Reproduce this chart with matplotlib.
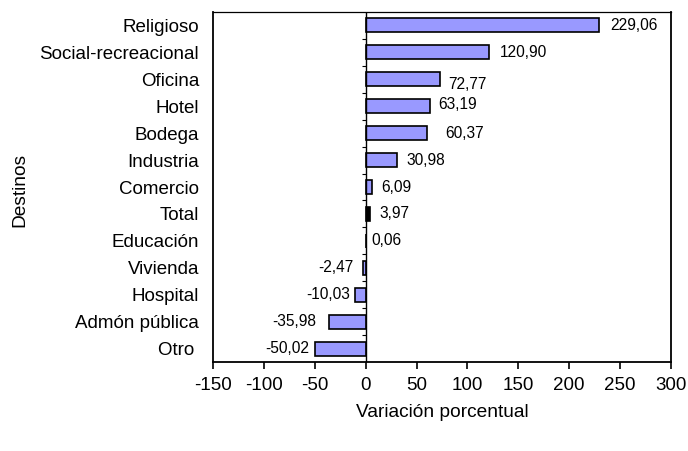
import numpy as np
from matplotlib import pyplot as plt

destinos = ['Religioso', 'Social-recreacional', 'Oficina', 'Hotel', 'Bodega', 'Industria',
            'Comercio', 'Total', 'Educación', 'Vivienda', 'Hospital', 'Admón pública', 'Otro ']
variacion = [229.06, 120.90, 72.77, 63.19, 60.37, 30.98, 6.09, 3.97, 0.06, -2.47, -10.03, -35.98, -50.02]
etiquetas = ['229,06', '120,90', '72,77', '63,19', '60,37', '30,98', '6,09', '3,97', '0,06',
             '-2,47', '-10,03', '-35,98', '-50,02']

# small hand nudges for the value labels (points), like in the original sheet
dx = [8, 8, 6, 6, 13, 7, 7, 7, 4, -7, -4, -9, -4]
dy = [0, 0, -4, 1, 0, 0, 0, 0, 0, 0, 0, 0, 0]

plt.rcParams['font.family'] = ['Liberation Sans', 'DejaVu Sans']
plt.rcParams['axes.unicode_minus'] = False

fig = plt.figure(figsize=(6.88, 4.51), dpi=100)
ax = fig.add_axes([213 / 688, 1 - 362 / 451, 458 / 688, 350 / 451])

y = np.arange(len(destinos))
colores = ['#000000' if d == 'Total' else '#9999FF' for d in destinos]
ax.barh(y, variacion, height=0.52, color=colores, edgecolor='black', linewidth=1.2, zorder=3)

for i, v in enumerate(variacion):
    ha = 'left' if v >= 0 else 'right'
    ax.annotate(etiquetas[i], (v, y[i]), xytext=(dx[i], dy[i]), textcoords='offset points',
                ha=ha, va='center', fontsize=11.2)

# zero line with category separators
ax.axvline(0, color='black', linewidth=1.0, zorder=4)
ax.hlines(y[1:] - 0.5, -4, 0, color='black', linewidth=0.8, zorder=4)

ax.set_xlim(-150, 300)
ax.set_ylim(len(destinos) - 0.5, -0.5)
ax.set_xticks(np.arange(-150, 301, 50))
ax.tick_params(axis='x', direction='out', length=5, width=1.2, labelsize=13.5, pad=6)
ax.set_yticks(y)
ax.set_yticklabels(destinos)
ax.tick_params(axis='y', length=0, labelsize=13.5, pad=10)

for s in ['left', 'bottom', 'right']:
    ax.spines[s].set_linewidth(1.3)
ax.spines['top'].set_linewidth(0.9)

ax.set_xlabel('Variación porcentual', fontsize=13.8, labelpad=7)
fig.text(20 / 688, 1 - 190 / 451, 'Destinos', rotation=90, ha='center', va='center', fontsize=13.8)

plt.savefig('out.png')
